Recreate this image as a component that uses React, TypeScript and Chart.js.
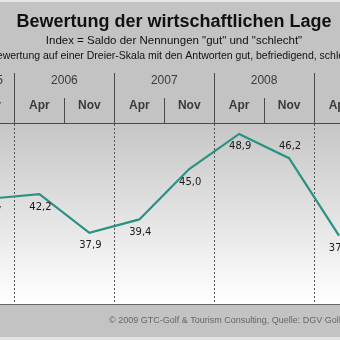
import React, { useEffect, useRef } from "react";
import { Chart, registerables } from "chart.js";

Chart.register(...registerables);

const months = ["Nov", "Apr", "Nov", "Apr", "Nov", "Apr", "Nov", "Apr"];
const years = ["2005", "2006", "2006", "2007", "2007", "2008", "2008", "2009"];
const values = [41.7, 42.2, 37.9, 39.4, 45.0, 48.9, 46.2, 37.6];
const labelAbove = [false, false, false, false, false, false, true, false];

const title = "Bewertung der wirtschaftlichen Lage";
const subtitle1 = 'Index = Saldo der Nennungen "gut" und "schlecht"';
const subtitle2 = "Bewertung auf einer Dreier-Skala mit den Antworten gut, befriedigend, schlecht";
const footer = "© 2009 GTC-Golf & Tourism Consulting, Quelle: DGV Golfbarometer";

const fmt = (v: number) => v.toFixed(1).replace(".", ",");

const decor = {
  id: "decor",
  beforeDraw(chart: any) {
    const { ctx, width, height, chartArea } = chart;
    const { top, bottom, left, right } = chartArea;
    ctx.save();
    ctx.fillStyle = "#c3c3c3";
    ctx.fillRect(0, 0, width, height);
    ctx.fillStyle = "#e6e6e6";
    ctx.fillRect(0, 0, width, 2);
    ctx.fillStyle = "#e2e2e2";
    ctx.fillRect(0, height - 3, width, 3);
    const g = ctx.createLinearGradient(0, top, 0, bottom);
    g.addColorStop(0, "#c6c6c6");
    g.addColorStop(1, "#ffffff");
    ctx.fillStyle = g;
    ctx.fillRect(left, top, right - left, bottom - top);

    const cx = 174;
    ctx.textAlign = "center";
    ctx.textBaseline = "middle";
    ctx.fillStyle = "#111";
    ctx.font = "bold 18px 'Liberation Sans', Arial, sans-serif";
    ctx.fillText(title, cx, 22);
    ctx.font = "11.5px 'Liberation Sans', Arial, sans-serif";
    ctx.fillText(subtitle1, cx, 41);
    ctx.font = "10.5px 'Liberation Sans', Arial, sans-serif";
    ctx.fillText(subtitle2, cx, 56);

    const xs = chart.scales.x;
    ctx.strokeStyle = "#4a4a4a";
    ctx.lineWidth = 1;
    ctx.fillStyle = "#3a3a3a";
    for (let i = 0; i < months.length; i++) {
      const px = xs.getPixelForValue(i);
      ctx.font = "bold 12px 'Liberation Sans', Arial, sans-serif";
      ctx.fillText(months[i], px, 106);
      if (months[i] === "Apr") {
        const b = Math.round(xs.getPixelForValue(i - 0.5)) + 0.5;
        ctx.beginPath();
        ctx.moveTo(b, 73);
        ctx.lineTo(b, top);
        ctx.stroke();
        const m = Math.round(xs.getPixelForValue(i + 0.5)) + 0.5;
        ctx.beginPath();
        ctx.moveTo(m, 98);
        ctx.lineTo(m, top);
        ctx.stroke();
        ctx.font = "12px 'Liberation Sans', Arial, sans-serif";
        ctx.fillText(years[i], xs.getPixelForValue(i + 0.5), 81);
        ctx.save();
        ctx.setLineDash([2, 2]);
        ctx.strokeStyle = "#555";
        ctx.beginPath();
        ctx.moveTo(b, top);
        ctx.lineTo(b, bottom);
        ctx.stroke();
        ctx.restore();
      }
    }
    ctx.font = "12px 'Liberation Sans', Arial, sans-serif";
    ctx.fillText(years[0], xs.getPixelForValue(0), 81);
    ctx.beginPath();
    ctx.moveTo(0, top - 0.5);
    ctx.lineTo(width, top - 0.5);
    ctx.stroke();
    ctx.strokeStyle = "#666";
    ctx.beginPath();
    ctx.moveTo(0, bottom + 0.5);
    ctx.lineTo(width, bottom + 0.5);
    ctx.stroke();

    ctx.textAlign = "left";
    ctx.fillStyle = "#666";
    ctx.font = "9px 'Liberation Sans', Arial, sans-serif";
    ctx.fillText(footer, 109, 321);
    ctx.restore();
  },
  afterDatasetsDraw(chart: any) {
    const { ctx } = chart;
    const meta = chart.getDatasetMeta(0);
    ctx.save();
    ctx.font = "10px 'DejaVu Sans', Verdana, sans-serif";
    ctx.fillStyle = "#1a1a1a";
    ctx.textAlign = "center";
    ctx.textBaseline = "middle";
    meta.data.forEach((pt: any, i: number) => {
      const dy = labelAbove[i] ? -12 : 13;
      ctx.fillText(fmt(values[i]), pt.x + 1, pt.y + dy);
    });
    ctx.restore();
  },
};

export default function App() {
  const ref = useRef<HTMLCanvasElement>(null);
  useEffect(() => {
    const chart = new Chart(ref.current!, {
      type: "line",
      data: {
        datasets: [
          {
            data: values.map((v, i) => ({ x: i, y: v })),
            borderColor: "#2a9282",
            borderWidth: 2.2,
            pointRadius: 0,
            tension: 0,
            clip: false as any,
          },
        ],
      },
      options: {
        animation: false,
        responsive: false,
        events: [],
        layout: { padding: { top: 124, bottom: 36, left: 0, right: 0 } },
        plugins: { legend: { display: false }, tooltip: { enabled: false }, title: { display: false } },
        scales: {
          x: { type: "linear", display: false, min: 0.21, max: 7.02 },
          y: { display: false, min: 30, max: 50 },
        },
      },
      plugins: [decor],
    });
    return () => chart.destroy();
  }, []);
  return (
    <div style={{ position: "fixed", left: 0, top: 0, width: 340, height: 340, overflow: "hidden" }}>
      <canvas ref={ref} width={340} height={340} style={{ display: "block" }} />
    </div>
  );
}
